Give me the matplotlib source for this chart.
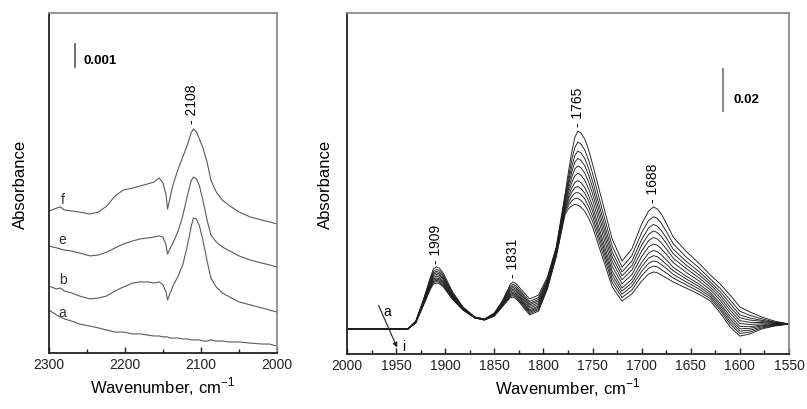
import matplotlib
matplotlib.use('Agg')
import matplotlib.pyplot as plt
from matplotlib.ticker import MultipleLocator

plt.rcParams['font.family'] = ['Liberation Sans', 'DejaVu Sans']
plt.rcParams['mathtext.fontset'] = 'custom'
plt.rcParams['mathtext.rm'] = 'Liberation Sans'

# ---- left panel: 2300-2000 cm-1, absorbance in 10^-3 units ----
wn_left = [2300, 2290, 2285, 2280, 2270, 2260, 2246, 2235, 2224, 2213, 2202, 2190, 2180,
           2170, 2162, 2155, 2150, 2146, 2144, 2141, 2137, 2130, 2124, 2118, 2113, 2110,
           2106, 2102, 2097, 2092, 2087, 2080, 2072, 2062, 2050, 2035, 2020, 2010, 2000]

spec_a = [1.87, 1.65, 1.57, 1.48, 1.39, 1.26, 1.17, 1.09, 1.00, 0.91, 0.91, 0.83, 0.83,
          0.78, 0.74, 0.74, 0.70, 0.70, 0.70, 0.65, 0.65, 0.65, 0.61, 0.61, 0.57, 0.57,
          0.57, 0.57, 0.52, 0.52, 0.57, 0.52, 0.52, 0.48, 0.48, 0.43, 0.39, 0.39, 0.30]
spec_b = [2.91, 2.78, 2.83, 2.70, 2.61, 2.48, 2.35, 2.39, 2.48, 2.70, 2.87, 3.04, 3.09,
          3.09, 3.04, 3.09, 2.96, 2.65, 2.30, 2.57, 2.91, 3.35, 3.83, 4.65, 5.48, 5.87,
          5.83, 5.52, 4.83, 4.00, 3.26, 2.87, 2.61, 2.43, 2.22, 2.09, 1.96, 1.87, 1.78]
spec_e = [4.65, 4.57, 4.52, 4.48, 4.43, 4.35, 4.22, 4.26, 4.39, 4.57, 4.74, 4.87, 4.96,
          5.00, 5.04, 5.09, 5.04, 4.70, 4.30, 4.52, 4.78, 5.30, 5.96, 6.83, 7.48, 7.65,
          7.57, 7.26, 6.57, 5.78, 5.13, 4.83, 4.61, 4.43, 4.22, 4.04, 3.91, 3.83, 3.74]
spec_f = [6.17, 6.30, 6.35, 6.22, 6.17, 6.13, 6.04, 6.13, 6.39, 6.83, 7.09, 7.17, 7.26,
          7.35, 7.43, 7.61, 7.39, 6.87, 6.26, 6.70, 7.30, 8.00, 8.52, 9.04, 9.57, 9.74,
          9.61, 9.30, 8.87, 8.30, 7.52, 7.00, 6.65, 6.39, 6.13, 5.91, 5.78, 5.70, 5.61]
left_names = ['a', 'b', 'e', 'f']
left_label_y = [1.78, 3.22, 4.96, 6.70]

# ---- right panel: 2000-1550 cm-1, absorbance in 10^-3 units, top spectrum first ----
wn_right = [2000, 1938, 1930, 1922, 1915, 1912, 1909, 1906, 1902, 1893, 1882, 1870, 1860,
            1850, 1842, 1836, 1834, 1831, 1828, 1824, 1814, 1805, 1796, 1787, 1778, 1774,
            1771, 1768, 1765, 1762, 1758, 1754, 1750, 1740, 1730, 1720, 1710, 1700, 1693,
            1688, 1684, 1680, 1674, 1668, 1655, 1642, 1630, 1620, 1610, 1600, 1590, 1578,
            1565, 1550]

spectra_right = [
    [0, 0, 3.8, 14.4, 25.0, 28.9, 29.8, 29.2, 26.9, 18.2, 10.6, 5.8, 4.8, 7.7, 13.4, 19.2,
     21.4, 22.6, 21.8, 19.7, 14.4, 16.3, 25.0, 39.4, 64.8, 77.0, 85.4, 92.0, 95.0, 94.2, 91.2,
     86.0, 79.2, 61.0, 43.2, 32.6, 38.4, 50.4, 56.6, 58.6, 57.6, 55.2, 50.0, 44.2, 37.4, 31.7,
     25.9, 21.6, 16.3, 10.6, 8.2, 5.8, 3.8, 2.4],
    [0, 0, 3.7, 14.0, 24.1, 27.8, 28.6, 28.1, 25.9, 17.6, 10.4, 5.7, 4.7, 7.5, 13.0, 18.4,
     20.4, 21.5, 20.7, 18.6, 13.2, 15.1, 24.1, 38.7, 63.3, 74.2, 81.5, 87.2, 89.7, 88.9, 86.0,
     81.1, 74.7, 57.0, 39.8, 29.7, 35.2, 46.3, 52.1, 53.9, 53.0, 50.8, 46.1, 41.0, 34.7, 29.5,
     24.0, 19.5, 14.0, 8.5, 6.6, 4.9, 3.4, 2.4],
    [0, 0, 3.6, 13.6, 23.4, 26.9, 27.7, 27.2, 25.1, 17.2, 10.2, 5.7, 4.7, 7.3, 12.6, 17.8,
     19.6, 20.7, 19.8, 17.8, 12.3, 14.2, 23.4, 38.1, 62.2, 71.9, 78.3, 83.3, 85.4, 84.6, 81.9,
     77.1, 71.0, 53.9, 37.0, 27.4, 32.6, 43.0, 48.5, 50.2, 49.3, 47.3, 43.1, 38.4, 32.6, 27.7,
     22.5, 17.9, 12.2, 6.8, 5.3, 4.2, 3.2, 2.4],
    [0, 0, 3.5, 13.3, 22.9, 26.2, 27.0, 26.4, 24.4, 16.8, 10.0, 5.6, 4.6, 7.1, 12.4, 17.2,
     19.0, 19.9, 19.1, 17.0, 11.6, 13.5, 22.9, 37.6, 61.2, 70.0, 75.7, 80.1, 81.9, 81.0, 78.4,
     73.9, 68.0, 51.2, 34.7, 25.5, 30.4, 40.3, 45.4, 47.1, 46.3, 44.4, 40.5, 36.2, 30.8, 26.2,
     21.3, 16.5, 10.6, 5.4, 4.3, 3.7, 2.9, 2.4],
    [0, 0, 3.4, 13.0, 22.3, 25.5, 26.2, 25.7, 23.8, 16.4, 9.9, 5.6, 4.6, 7.0, 12.1, 16.7,
     18.3, 19.2, 18.4, 16.3, 10.8, 12.7, 22.3, 37.1, 60.2, 68.1, 73.1, 76.9, 78.3, 77.5, 74.9,
     70.6, 65.0, 48.6, 32.4, 23.6, 28.3, 37.5, 42.4, 43.9, 43.2, 41.4, 37.9, 34.1, 29.1, 24.7,
     20.0, 15.1, 9.1, 4.0, 3.2, 3.1, 2.7, 2.4],
    [0, 0, 3.3, 12.8, 21.7, 24.7, 25.4, 24.9, 23.1, 16.0, 9.7, 5.5, 4.5, 6.8, 11.8, 16.2,
     17.7, 18.5, 17.6, 15.6, 10.0, 11.9, 21.7, 36.7, 59.2, 66.2, 70.5, 73.6, 74.8, 73.9, 71.5,
     67.3, 62.0, 46.0, 30.1, 21.7, 26.1, 34.8, 39.4, 40.8, 40.2, 38.5, 35.4, 31.9, 27.3, 23.2,
     18.8, 13.7, 7.6, 2.6, 2.2, 2.5, 2.4, 2.4],
    [0, 0, 3.2, 12.5, 21.1, 24.0, 24.6, 24.2, 22.4, 15.7, 9.6, 5.5, 4.5, 6.7, 11.5, 15.6,
     17.0, 17.8, 16.9, 14.9, 9.2, 11.1, 21.1, 36.2, 58.2, 64.3, 67.9, 70.4, 71.2, 70.4, 68.0,
     64.0, 59.0, 43.3, 27.8, 19.7, 23.9, 32.0, 36.4, 37.7, 37.1, 35.6, 32.8, 29.7, 25.5, 21.7,
     17.5, 12.3, 6.1, 1.2, 1.1, 1.9, 2.2, 2.4],
    [0, 0, 3.1, 12.2, 20.7, 23.4, 24.0, 23.6, 21.9, 15.4, 9.5, 5.4, 4.4, 6.6, 11.3, 15.2,
     16.5, 17.2, 16.3, 14.3, 8.6, 10.5, 20.7, 35.8, 57.5, 62.8, 65.8, 67.9, 68.4, 67.5, 65.3,
     61.4, 56.6, 41.2, 26.0, 18.2, 22.2, 29.9, 34.0, 35.2, 34.7, 33.2, 30.7, 28.0, 24.1, 20.5,
     16.5, 11.2, 4.8, 0.1, 0.3, 1.5, 2.0, 2.4],
    [0, 0, 3.1, 12.0, 20.2, 22.8, 23.4, 23.0, 21.3, 15.0, 9.4, 5.4, 4.4, 6.5, 11.1, 14.8,
     16.0, 16.6, 15.7, 13.7, 8.0, 9.9, 20.2, 35.4, 56.7, 61.2, 63.7, 65.3, 65.5, 64.7, 62.5,
     58.8, 54.1, 39.1, 24.1, 16.7, 20.5, 27.7, 31.5, 32.7, 32.2, 30.9, 28.7, 26.3, 22.7, 19.3,
     15.5, 10.1, 3.6, -1.0, -0.6, 1.0, 1.8, 2.4],
    [0, 0, 3.0, 11.8, 19.7, 22.3, 22.8, 22.4, 20.8, 14.7, 9.2, 5.3, 4.3, 6.3, 10.9, 14.4,
     15.5, 16.0, 15.2, 13.1, 7.4, 9.3, 19.7, 35.0, 55.9, 59.7, 61.6, 62.7, 62.7, 61.8, 59.7,
     56.2, 51.7, 37.0, 22.3, 15.1, 18.7, 25.5, 29.1, 30.2, 29.8, 28.5, 26.6, 24.5, 21.3, 18.1,
     14.5, 9.0, 2.4, -2.1, -1.5, 0.5, 1.6, 2.4],
    [0, 0, 2.9, 11.5, 19.2, 21.6, 22.1, 21.7, 20.2, 14.4, 9.1, 5.3, 4.3, 6.2, 10.6, 13.9,
     14.9, 15.4, 14.5, 12.5, 6.7, 8.6, 19.2, 34.6, 55.0, 58.0, 59.2, 59.8, 59.5, 58.6, 56.6,
     53.2, 49.0, 34.6, 20.2, 13.4, 16.8, 23.0, 26.4, 27.4, 27.0, 25.9, 24.3, 22.6, 19.7, 16.8,
     13.4, 7.7, 1.0, -3.4, -2.4, 0, 1.4, 2.4],
]

peaks_right = [1909, 1831, 1765, 1688]
peak_label_y = [31.7, 25.0, 97.4, 61.0]

fig = plt.figure(figsize=(8.07, 4.10), dpi=100)
ax1 = fig.add_axes([49/807, 56/410, 228/807, 340/410])
ax2 = fig.add_axes([347/807, 55/410, 442/807, 341/410])

for ax in (ax1, ax2):
    ax.spines['left'].set_color('#222222')
    ax.spines['bottom'].set_color('#222222')
    ax.spines['top'].set_color('#8c8c8c')
    ax.spines['right'].set_color('#8c8c8c')
    for s in ax.spines.values():
        s.set_linewidth(1.3)
    ax.set_yticks([])
    ax.tick_params(axis='x', which='both', direction='in', top=False, labelsize=10,
                   pad=3, colors='#222222')
    ax.tick_params(axis='x', which='major', length=4, width=1)
    ax.tick_params(axis='x', which='minor', length=3, width=1)
    ax.set_xlabel('Wavenumber, cm$^{\\mathregular{-1}}$', fontsize=12)
    ax.set_ylabel('Absorbance', fontsize=12)

# left panel
for spec in (spec_a, spec_b, spec_e, spec_f):
    ax1.plot(wn_left, spec, color='#5a5a5a', lw=0.8)
for name, ly in zip(left_names, left_label_y):
    ax1.text(2282, ly, name, fontsize=10, ha='center', va='center', color='#333333')
ax1.set_xlim(2300, 2000)
ax1.set_ylim(0, 14.78)
ax1.xaxis.set_major_locator(MultipleLocator(100))
ax1.xaxis.set_minor_locator(MultipleLocator(50))
ax1.plot([2266, 2266], [12.43, 13.43], color='#555555', lw=1.2)
ax1.text(2254, 12.75, '0.001', fontsize=9.5, fontweight='bold', ha='left', va='center')
ax1.text(2112, 10.0, '- 2108', rotation=90, fontsize=10, ha='center', va='bottom')
ax1.yaxis.set_label_coords(-0.092, 0.5)
ax1.xaxis.set_label_coords(0.5, -0.062)

# right panel
for spec in spectra_right:
    ax2.plot(wn_right, spec, color='#1e1e1e', lw=0.65)
for p, py in zip(peaks_right, peak_label_y):
    ax2.text(p, py, '- %d' % p, rotation=90, fontsize=10, ha='center', va='bottom')
ax2.set_xlim(2000, 1550)
ax2.set_ylim(-12.0, 151.7)
ax2.xaxis.set_major_locator(MultipleLocator(50))
ax2.xaxis.set_minor_locator(MultipleLocator(25))
ax2.annotate('', xy=(1947.8, -10.1), xytext=(1969, 12.5),
             arrowprops=dict(arrowstyle='-|>', color='#222222', lw=0.8, mutation_scale=7))
ax2.text(1959, 8.8, 'a', fontsize=10, ha='center', va='center')
ax2.text(1942, -8.0, 'i', fontsize=10, ha='center', va='center')
ax2.plot([1617.5, 1617.5], [104.8, 124.8], color='#8c8c8c', lw=1.5)
ax2.text(1607, 110.4, '0.02', fontsize=9.5, fontweight='bold', ha='left', va='center')
ax2.yaxis.set_label_coords(-0.032, 0.5)
ax2.xaxis.set_label_coords(0.5, -0.062)

fig.savefig('out.png', dpi=100)
